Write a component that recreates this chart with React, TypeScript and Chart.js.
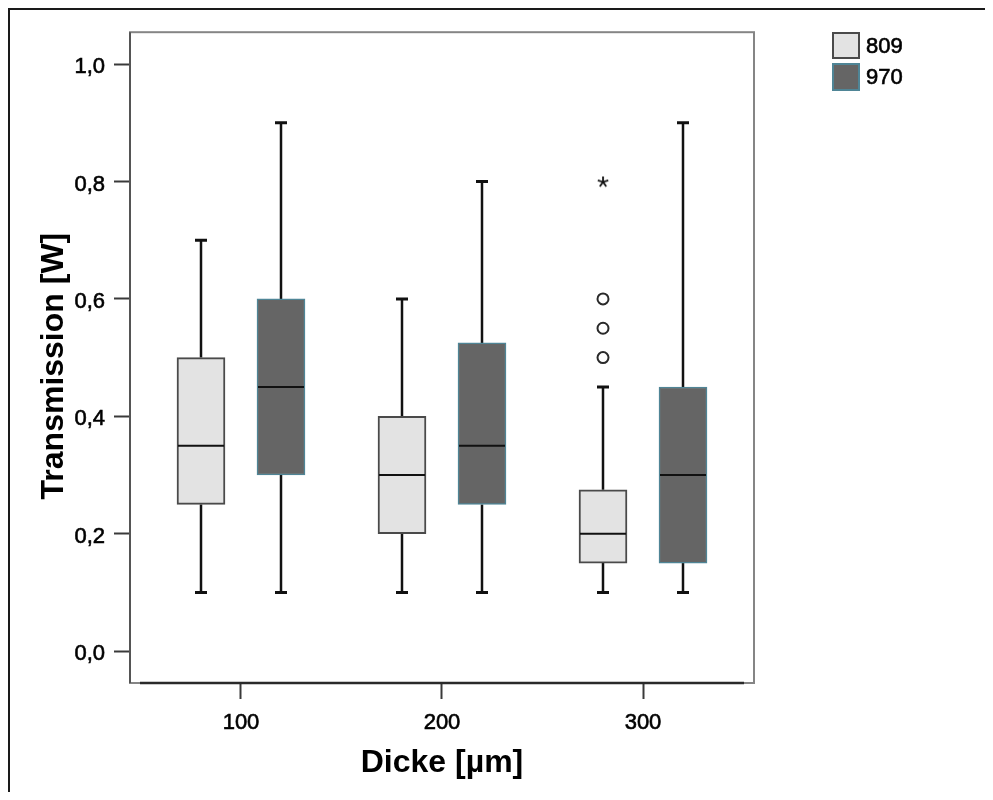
import React, { useEffect, useRef } from 'react';
import { Chart, registerables } from 'chart.js';

Chart.register(...registerables);

// ---------- data ----------
const categories = [100, 200, 300];
const xTickLabels = ['100', '200', '300'];
const yTickValues = [0, 0.2, 0.4, 0.6, 0.8, 1.0];
const yTickLabels = ['0,0', '0,2', '0,4', '0,6', '0,8', '1,0'];
const seriesNames = ['809', '970'];
const xTitle = 'Dicke [µm]';
const yTitle = 'Transmission [W]';

const min809 = [0.1, 0.1, 0.1];
const q1_809 = [0.25, 0.2, 0.15];
const med809 = [0.35, 0.3, 0.2];
const q3_809 = [0.5, 0.4, 0.275];
const max809 = [0.7, 0.6, 0.45];

const min970 = [0.1, 0.1, 0.1];
const q1_970 = [0.3, 0.25, 0.15];
const med970 = [0.45, 0.35, 0.3];
const q3_970 = [0.6, 0.525, 0.45];
const max970 = [0.9, 0.8, 0.9];

// outliers (circles) and extreme values (asterisk), series 809
const outlierCategories809 = [300, 300, 300];
const outlierValues809 = [0.5, 0.55, 0.6];
const extremeCategories809 = [300];
const extremeValues809 = [0.8];

// ---------- layout / style ----------
const FONT = "'Liberation Sans', Arial, Helvetica, sans-serif";
const CANVAS_W = 975;
const CANVAS_H = 782;
const AREA = { left: 120, top: 19, right: 744, bottom: 673 };
const X_MIN = 44.78;
const X_MAX = 355.22;
const Y_MIN = -0.0542;
const Y_MAX = 1.0542;
const GROUP_OFFSET = 19.9; // in x units (~40px)
const BOX_PX = 48;
const CAP_PX = 12;
const TITLE_SIZE = 32;

const FILL_809 = '#e3e3e3';
const BORDER_809 = '#4a4a4a';
const FILL_970 = '#656565';
const BORDER_970 = '#4f8596';

export default function App() {
  const ref = useRef<HTMLCanvasElement | null>(null);

  useEffect(() => {
    document.body.style.overflow = 'hidden';
    const canvas = ref.current;
    if (!canvas) return;

    // asterisk marker
    const star = document.createElement('canvas');
    star.width = 14;
    star.height = 14;
    const sc = star.getContext('2d');
    if (sc) {
      sc.strokeStyle = '#111';
      sc.lineWidth = 1.8;
      const cx = 7, cy = 7.5, r = 5.5;
      for (let k = 0; k < 5; k++) {
        const ang = -Math.PI / 2 + (k * 2 * Math.PI) / 5;
        sc.beginPath();
        sc.moveTo(cx, cy);
        sc.lineTo(cx + r * Math.cos(ang), cy + r * Math.sin(ang));
        sc.stroke();
      }
    }

    const series = [
      { offset: -GROUP_OFFSET, min: min809, q1: q1_809, med: med809, q3: q3_809, max: max809 },
      { offset: GROUP_OFFSET, min: min970, q1: q1_970, med: med970, q3: q3_970, max: max970 },
    ];

    const boxParts = {
      id: 'boxParts',
      beforeDatasetsDraw(chart: any) {
        const { ctx, chartArea: a, scales } = chart;
        const x = scales.x, y = scales.y;
        ctx.save();
        // plot frame
        ctx.strokeStyle = '#858585';
        ctx.lineWidth = 2;
        ctx.strokeRect(a.left, a.top, a.right - a.left, a.bottom - a.top);
        ctx.strokeStyle = '#555';
        ctx.beginPath();
        ctx.moveTo(a.left, a.top);
        ctx.lineTo(a.left, a.bottom);
        ctx.stroke();
        // x axis line
        ctx.strokeStyle = '#2a2a2a';
        ctx.lineWidth = 2.5;
        ctx.beginPath();
        ctx.moveTo(a.left + 10, a.bottom);
        ctx.lineTo(a.right - 10, a.bottom);
        ctx.stroke();
        // whiskers + caps
        ctx.strokeStyle = '#111';
        series.forEach((s) => {
          categories.forEach((c, i) => {
            const px = Math.round(x.getPixelForValue(c + s.offset));
            const yMin = y.getPixelForValue(s.min[i]);
            const yQ1 = y.getPixelForValue(s.q1[i]);
            const yQ3 = y.getPixelForValue(s.q3[i]);
            const yMax = y.getPixelForValue(s.max[i]);
            ctx.lineWidth = 2.5;
            ctx.beginPath();
            ctx.moveTo(px, yMax);
            ctx.lineTo(px, yQ3);
            ctx.moveTo(px, yQ1);
            ctx.lineTo(px, yMin);
            ctx.stroke();
            ctx.lineWidth = 3;
            ctx.beginPath();
            ctx.moveTo(px - CAP_PX / 2, yMax);
            ctx.lineTo(px + CAP_PX / 2, yMax);
            ctx.moveTo(px - CAP_PX / 2, yMin);
            ctx.lineTo(px + CAP_PX / 2, yMin);
            ctx.stroke();
          });
        });
        ctx.restore();
      },
      afterDatasetsDraw(chart: any) {
        const { ctx, scales } = chart;
        const x = scales.x, y = scales.y;
        ctx.save();
        ctx.strokeStyle = '#111';
        ctx.lineWidth = 2;
        series.forEach((s) => {
          categories.forEach((c, i) => {
            const px = x.getPixelForValue(c + s.offset);
            const py = y.getPixelForValue(s.med[i]);
            ctx.beginPath();
            ctx.moveTo(px - BOX_PX / 2 + 1, py);
            ctx.lineTo(px + BOX_PX / 2 - 1, py);
            ctx.stroke();
          });
        });
        ctx.restore();
      },
      afterDraw(chart: any) {
        // y-axis title, rotated, positioned like the reference
        const { ctx, chartArea: a } = chart;
        ctx.save();
        ctx.font = `bold ${TITLE_SIZE}px ${FONT}`;
        ctx.fillStyle = '#000';
        ctx.textAlign = 'center';
        ctx.textBaseline = 'alphabetic';
        ctx.translate(52.5, (a.top + a.bottom) / 2 + 8.5);
        ctx.rotate(-Math.PI / 2);
        ctx.fillText(yTitle, 0, 0);
        ctx.restore();
      },
    };

    const chart = new Chart(canvas, {
      type: 'bar',
      data: {
        datasets: [
          {
            label: seriesNames[0],
            data: categories.map((c, i) => ({ x: c - GROUP_OFFSET, y: [q1_809[i], q3_809[i]] })) as any,
            backgroundColor: FILL_809,
            borderColor: BORDER_809,
            borderWidth: 2,
            borderSkipped: false,
            barThickness: BOX_PX,
            grouped: false,
          } as any,
          {
            label: seriesNames[1],
            data: categories.map((c, i) => ({ x: c + GROUP_OFFSET, y: [q1_970[i], q3_970[i]] })) as any,
            backgroundColor: FILL_970,
            borderColor: BORDER_970,
            borderWidth: 1.5,
            borderSkipped: false,
            barThickness: BOX_PX,
            grouped: false,
          } as any,
          {
            type: 'scatter',
            label: 'outliers',
            data: outlierCategories809.map((c, i) => ({ x: c - GROUP_OFFSET, y: outlierValues809[i] })),
            pointStyle: 'circle',
            pointRadius: 5.5,
            pointBackgroundColor: '#ffffff',
            pointBorderColor: '#2a2a2a',
            pointBorderWidth: 2,
          } as any,
          {
            type: 'scatter',
            label: 'extremes',
            data: extremeCategories809.map((c, i) => ({ x: c - GROUP_OFFSET, y: extremeValues809[i] })),
            pointStyle: star,
            pointRadius: 6,
          } as any,
        ],
      },
      options: {
        animation: false,
        responsive: false,
        devicePixelRatio: 1,
        events: [],
        layout: { padding: { left: 0, top: AREA.top, right: CANVAS_W - AREA.right, bottom: 0 } },
        plugins: { legend: { display: false }, tooltip: { enabled: false }, title: { display: false } },
        scales: {
          x: {
            type: 'linear',
            min: X_MIN,
            max: X_MAX,
            offset: false,
            afterBuildTicks: (s: any) => {
              s.ticks = categories.map((v) => ({ value: v }));
            },
            afterFit: (s: any) => {
              s.height = CANVAS_H - AREA.bottom;
            },
            grid: {
              offset: false,
              drawOnChartArea: false,
              drawTicks: true,
              tickLength: 16,
              tickWidth: 2,
              tickColor: '#3a3a3a',
            },
            border: { display: false },
            ticks: {
              callback: (_v: any, i: number) => xTickLabels[i],
              font: { family: FONT, size: 22 },
              color: '#000',
              textStrokeColor: '#000',
              textStrokeWidth: 0.6,
              padding: 11,
              maxRotation: 0,
              autoSkip: false,
            },
            title: {
              display: true,
              text: xTitle,
              font: { family: FONT, size: TITLE_SIZE, weight: 'bold' },
              color: '#000',
              padding: { top: 0, bottom: 9.4 },
            },
          } as any,
          y: {
            type: 'linear',
            min: Y_MIN,
            max: Y_MAX,
            afterBuildTicks: (s: any) => {
              s.ticks = yTickValues.map((v) => ({ value: v }));
            },
            afterFit: (s: any) => {
              s.width = AREA.left;
            },
            grid: {
              offset: false,
              drawOnChartArea: false,
              drawTicks: true,
              tickLength: 16,
              tickWidth: 2,
              tickColor: '#3a3a3a',
            },
            border: { display: false },
            ticks: {
              callback: (_v: any, i: number) => yTickLabels[i],
              font: { family: FONT, size: 22 },
              color: '#000',
              textStrokeColor: '#000',
              textStrokeWidth: 0.6,
              padding: 9,
              labelOffset: 3,
              autoSkip: false,
            },
          } as any,
        },
      },
      plugins: [boxParts],
    } as any);

    return () => chart.destroy();
  }, []);

  const legendText: React.CSSProperties = {
    position: 'absolute',
    left: 856,
    fontFamily: FONT,
    fontSize: 22,
    lineHeight: '26px',
    color: '#000',
    whiteSpace: 'nowrap',
    WebkitTextStroke: '0.6px #000',
  };

  return (
    <div
      style={{
        position: 'relative',
        width: 977,
        height: 784,
        boxSizing: 'border-box',
        borderTop: '2px solid #1a1a1a',
        borderLeft: '2px solid #1a1a1a',
        overflow: 'hidden',
      }}
    >
      <canvas ref={ref} width={CANVAS_W} height={CANVAS_H} style={{ display: 'block', width: CANVAS_W, height: CANVAS_H }} />
      <div
        style={{
          position: 'absolute',
          left: 822,
          top: 22,
          width: 28,
          height: 27,
          boxSizing: 'border-box',
          background: FILL_809,
          border: `2px solid ${BORDER_809}`,
        }}
      />
      <div style={{ ...legendText, top: 22.7 }}>{seriesNames[0]}</div>
      <div
        style={{
          position: 'absolute',
          left: 822,
          top: 53,
          width: 28,
          height: 28,
          boxSizing: 'border-box',
          background: FILL_970,
          border: `2px solid ${BORDER_970}`,
        }}
      />
      <div style={{ ...legendText, top: 54.4 }}>{seriesNames[1]}</div>
    </div>
  );
}
